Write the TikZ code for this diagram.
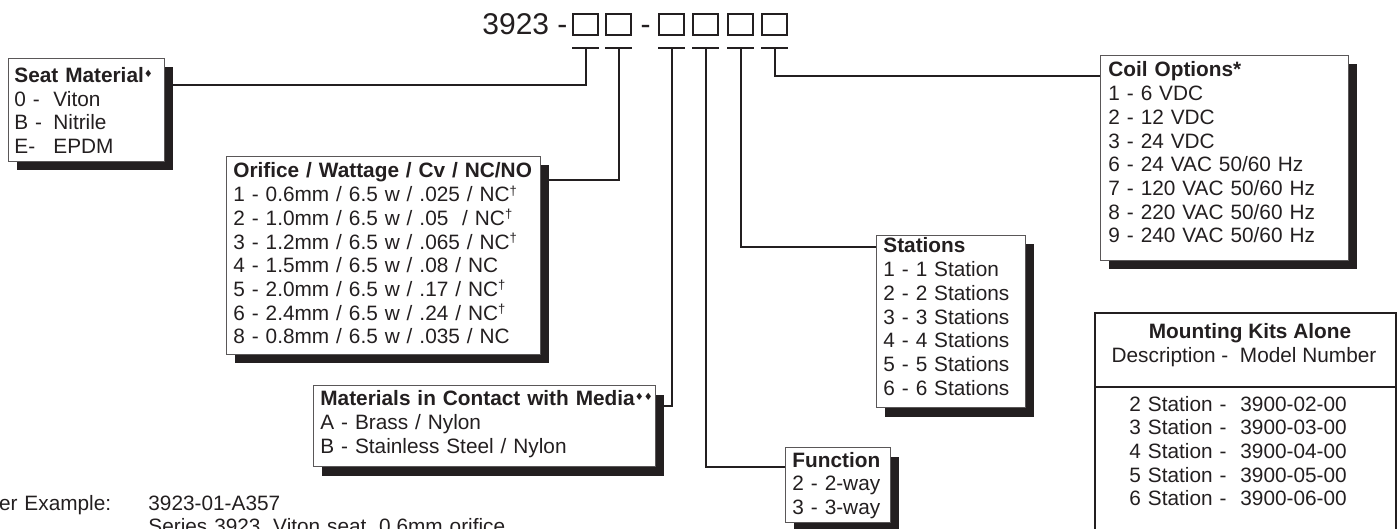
\documentclass[tikz,border=0pt]{standalone}
\usepackage{fontspec}
\setmainfont{Liberation Sans}
\newfontfamily\symfont{DejaVu Sans}
\usetikzlibrary{shadows}
\definecolor{ink}{HTML}{231F20}
\newcommand\optfont{\fontsize{10.4}{11.85}\selectfont}
\newcommand\diam{\raisebox{0.5ex}{\symfont\fontsize{5}{5}\selectfont ♦}}
\newcommand\dagr{\raisebox{0.6ex}{\fontsize{6.5}{6.5}\selectfont †}}
\newcommand\col[1]{\makebox[19.5pt][l]{#1}}

\begin{document}
\begin{tikzpicture}[x=0.5pt,y=-0.5pt,
  optbox/.style={draw=ink!75,line width=0.5pt,fill=white,anchor=north west,inner sep=0pt,
    drop shadow={shadow xshift=4pt,shadow yshift=-4.5pt,fill=ink,opacity=1}},
  opttext/.style={anchor=base west,inner sep=0pt,align=left,text width=200pt,font=\optfont,text=ink},
  digit/.style={draw=ink,line width=0.6pt,minimum width=12.5pt,minimum height=10.5pt,inner sep=0pt},
  lead/.style={ink,line width=1pt}]
\clip (0,0) rectangle (1398,529);

% Model number
\node[anchor=base west,inner sep=0pt,font=\fontsize{15}{15}\selectfont,text=ink] (model) at (482,35) {3923 -};
\foreach \n/\x in {1/585.5,2/618.5,3/671.5,4/705.5,5/740.5,6/774.5}
  \node[digit] (sq\n) at (\x,24.5) {};
\node[anchor=base,inner sep=0pt,font=\fontsize{15}{15}\selectfont,text=ink] (dash) at (645.5,35) {-};

% Option boxes
\node[optbox,minimum width=78pt,minimum height=51.5pt] (seat) at (8,58) {};
\node[opttext] (seattxt) at (14,82.5) {\textbf{Seat Material}\diam\\
  \col{0 -}Viton\\ \col{B -}Nitrile\\ \col{E-}EPDM};

\node[optbox,minimum width=157pt,minimum height=99pt] (orif) at (226,156) {};
\node[opttext] (oriftxt) at (233,178) {\textbf{Orifice / Wattage / Cv / NC/NO}\\
  1 - 0.6mm / 6.5 w / .025 / NC\dagr\\
  2 - 1.0mm / 6.5 w / .05 \ / NC\dagr\\
  3 - 1.2mm / 6.5 w / .065 / NC\dagr\\
  4 - 1.5mm / 6.5 w / .08 / NC\\
  5 - 2.0mm / 6.5 w / .17 / NC\dagr\\
  6 - 2.4mm / 6.5 w / .24 / NC\dagr\\
  8 - 0.8mm / 6.5 w / .035 / NC};

\node[optbox,minimum width=171pt,minimum height=40.5pt] (mat) at (313,385) {};
\node[opttext] (mattxt) at (320,406) {\textbf{Materials in Contact with Media}\diam\diam\\
  A - Brass / Nylon\\ B - Stainless Steel / Nylon};

\node[optbox,minimum width=52.5pt,minimum height=37.5pt] (func) at (785,447) {};
\node[opttext] (functxt) at (792,467) {\textbf{Function}\\ 2 - 2-way\\ 3 - 3-way};

\node[optbox,minimum width=74.5pt,minimum height=86pt] (stat) at (876,235) {};
\node[opttext] (stattxt) at (883,253) {\textbf{Stations}\\ 1 - 1 Station\\ 2 - 2 Stations\\
  3 - 3 Stations\\ 4 - 4 Stations\\ 5 - 5 Stations\\ 6 - 6 Stations};

\node[optbox,minimum width=124pt,minimum height=102.5pt] (coil) at (1100,55) {};
\node[opttext] (coiltxt) at (1108,77) {\textbf{Coil Options*}\\ 1 - 6 VDC\\ 2 - 12 VDC\\
  3 - 24 VDC\\ 6 - 24 VAC 50/60 Hz\\ 7 - 120 VAC 50/60 Hz\\ 8 - 220 VAC 50/60 Hz\\
  9 - 240 VAC 50/60 Hz};

% Mounting kits
\node[draw=ink,line width=1pt,anchor=north west,inner sep=0pt,minimum width=150.5pt,minimum height=114pt] (mount) at (1094,312) {};
\coordinate (ydiv) at (0,387);
\draw[lead] (mount.west |- ydiv) -- (mount.east |- ydiv);
\node[anchor=base,inner sep=0pt,font=\optfont\bfseries,text=ink] (mounthd) at (1250,339) {Mounting Kits Alone};
\node[anchor=base,inner sep=0pt,font=\optfont,text=ink] (mountsub) at (1244,363) {Description -\ \ Model Number};
\node[opttext] (mounttxt) at (1129,411) {2 Station -\ \ 3900-02-00\\ 3 Station -\ \ 3900-03-00\\
  4 Station -\ \ 3900-04-00\\ 5 Station -\ \ 3900-05-00\\ 6 Station -\ \ 3900-06-00};

% Order example
\node[opttext] (ordhd) at (-36,510) {Order Example:};
\node[opttext] (ordtxt) at (148,510) {3923-01-A357\\ Series 3923, Viton seat, 0.6mm orifice};

% Leaders
\coordinate (lv) at (0,48);
\coordinate (yseat) at (0,85);
\coordinate (yorif) at (0,180);
\coordinate (ymat) at (0,406);
\coordinate (yfunc) at (0,467);
\coordinate (ystat) at (0,247);
\coordinate (ycoil) at (0,76);
\foreach \n in {1,...,6}
  \draw[lead] (sq\n.south west |- lv) -- (sq\n.south east |- lv);
\draw[lead] (sq1.south |- lv) |- (seat.east |- yseat);
\draw[lead] (sq2.south |- lv) |- (orif.east |- yorif);
\draw[lead] (sq3.south |- lv) |- (mat.east |- ymat);
\draw[lead] (sq4.south |- lv) |- (func.west |- yfunc);
\draw[lead] (sq5.south |- lv) |- (stat.west |- ystat);
\draw[lead] (sq6.south |- lv) |- (coil.west |- ycoil);

\end{tikzpicture}
\end{document}
